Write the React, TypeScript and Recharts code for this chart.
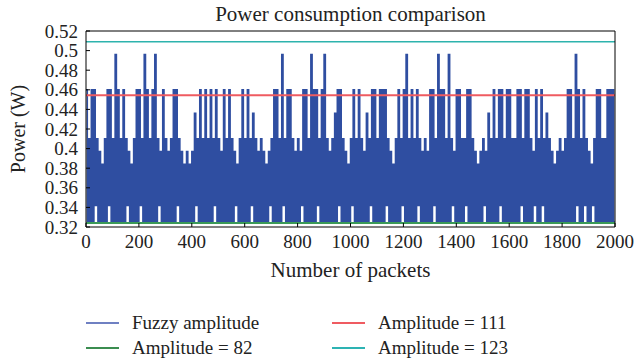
import { Legend, Line, LineChart, XAxis, YAxis } from 'recharts';

const FONT = '"Liberation Serif", "DejaVu Serif", serif';
const INK = '#222';

const CHART_W = 634;
const CHART_H = 364;
const MARGIN = { top: 31, right: 19, left: 0, bottom: 0 };
const Y_AXIS_W = 86;
const X_AXIS_H = 55;
const LEGEND_H = 82;
const TICK_GAP = 8;
const TICK_LEN = 4;

const packetTicks = [0, 200, 400, 600, 800, 1000, 1200, 1400, 1600, 1800, 2000];
const powerTicks = [0.32, 0.34, 0.36, 0.38, 0.4, 0.42, 0.44, 0.46, 0.48, 0.5, 0.52];

// Fuzzy amplitude: highest power reached in each 10-packet window (W)
const fuzzyPeaks = [
  0.46, 0.41, 0.46, 0.46, 0.41, 0.397, 0.384, 0.41, 0.46, 0.46,
  0.41, 0.496, 0.46, 0.41, 0.46, 0.41, 0.397, 0.384, 0.41, 0.46,
  0.46, 0.41, 0.496, 0.46, 0.41, 0.46, 0.496, 0.41, 0.397, 0.46,
  0.41, 0.397, 0.41, 0.46, 0.46, 0.41, 0.397, 0.384, 0.397, 0.384,
  0.397, 0.436, 0.41, 0.46, 0.41, 0.46, 0.41, 0.46, 0.41, 0.46,
  0.41, 0.397, 0.46, 0.41, 0.46, 0.41, 0.397, 0.384, 0.41, 0.46,
  0.41, 0.46, 0.41, 0.436, 0.41, 0.397, 0.41, 0.397, 0.384, 0.397,
  0.41, 0.46, 0.46, 0.41, 0.496, 0.41, 0.46, 0.46, 0.41, 0.397,
  0.41, 0.397, 0.46, 0.46, 0.41, 0.496, 0.46, 0.46, 0.41, 0.46,
  0.496, 0.41, 0.397, 0.41, 0.436, 0.46, 0.46, 0.41, 0.397, 0.384,
  0.41, 0.46, 0.41, 0.46, 0.41, 0.397, 0.436, 0.41, 0.46, 0.46,
  0.41, 0.46, 0.46, 0.46, 0.41, 0.397, 0.384, 0.41, 0.46, 0.41,
  0.46, 0.496, 0.41, 0.46, 0.41, 0.46, 0.41, 0.397, 0.41, 0.397,
  0.46, 0.46, 0.41, 0.496, 0.46, 0.46, 0.41, 0.496, 0.41, 0.397,
  0.46, 0.46, 0.41, 0.41, 0.46, 0.46, 0.41, 0.397, 0.384, 0.397,
  0.41, 0.397, 0.436, 0.41, 0.46, 0.41, 0.46, 0.46, 0.41, 0.46,
  0.46, 0.41, 0.41, 0.46, 0.46, 0.41, 0.46, 0.46, 0.41, 0.397,
  0.46, 0.41, 0.46, 0.41, 0.436, 0.41, 0.397, 0.384, 0.397, 0.41,
  0.397, 0.41, 0.46, 0.46, 0.41, 0.496, 0.46, 0.41, 0.46, 0.41,
  0.397, 0.384, 0.41, 0.46, 0.46, 0.41, 0.41, 0.46, 0.46, 0.46,
];

// Fuzzy amplitude: lowest power reached in each 10-packet window (W)
const fuzzyTroughs = [
  0.325, 0.325, 0.325, 0.342, 0.325, 0.325, 0.325, 0.325, 0.342, 0.325,
  0.325, 0.325, 0.325, 0.325, 0.325, 0.342, 0.325, 0.325, 0.325, 0.325,
  0.342, 0.325, 0.325, 0.325, 0.325, 0.325, 0.325, 0.342, 0.325, 0.325,
  0.325, 0.325, 0.325, 0.325, 0.342, 0.325, 0.325, 0.325, 0.325, 0.325,
  0.325, 0.342, 0.325, 0.325, 0.325, 0.325, 0.325, 0.325, 0.342, 0.325,
  0.325, 0.325, 0.325, 0.325, 0.325, 0.325, 0.342, 0.325, 0.325, 0.325,
  0.325, 0.325, 0.342, 0.325, 0.325, 0.325, 0.325, 0.325, 0.325, 0.342,
  0.325, 0.325, 0.325, 0.325, 0.342, 0.325, 0.325, 0.325, 0.325, 0.325,
  0.325, 0.342, 0.325, 0.325, 0.325, 0.325, 0.325, 0.342, 0.325, 0.325,
  0.325, 0.325, 0.325, 0.325, 0.325, 0.342, 0.325, 0.325, 0.325, 0.325,
  0.342, 0.325, 0.325, 0.325, 0.325, 0.325, 0.325, 0.342, 0.325, 0.325,
  0.325, 0.325, 0.325, 0.342, 0.325, 0.325, 0.325, 0.325, 0.325, 0.342,
  0.325, 0.325, 0.325, 0.325, 0.325, 0.342, 0.325, 0.325, 0.325, 0.325,
  0.325, 0.342, 0.325, 0.325, 0.325, 0.325, 0.325, 0.325, 0.342, 0.325,
  0.325, 0.325, 0.325, 0.342, 0.325, 0.325, 0.325, 0.325, 0.325, 0.325,
  0.342, 0.325, 0.325, 0.325, 0.325, 0.325, 0.342, 0.325, 0.325, 0.325,
  0.325, 0.325, 0.325, 0.325, 0.342, 0.325, 0.325, 0.325, 0.325, 0.342,
  0.325, 0.325, 0.342, 0.325, 0.325, 0.325, 0.325, 0.325, 0.325, 0.325,
  0.325, 0.325, 0.325, 0.325, 0.325, 0.342, 0.325, 0.325, 0.342, 0.325,
  0.325, 0.342, 0.325, 0.325, 0.325, 0.325, 0.325, 0.325, 0.325, 0.325,
];

// Fixed-amplitude runs draw a constant power (W)
const amp82 = 0.324;
const amp111 = 0.4545;
const amp123 = 0.509;

const WINDOW = 10;

const rows: Record<string, number>[] = [];
fuzzyPeaks.forEach((peak, i) => {
  rows.push({ packet: i * WINDOW, fuzzy: peak, amp82, amp111, amp123 });
  rows.push({ packet: i * WINDOW + WINDOW / 2, fuzzy: fuzzyTroughs[i], amp82, amp111, amp123 });
});
rows.push({ packet: 2000, fuzzy: fuzzyTroughs[fuzzyTroughs.length - 1], amp82, amp111, amp123 });

const series = [
  { key: 'fuzzy', name: 'Fuzzy amplitude', color: '#2f4ea1', width: 1.5, legend: '#6f80c2' },
  { key: 'amp82', name: 'Amplitude = 82', color: '#3b9a58', width: 2, legend: '#3b8d50' },
  { key: 'amp111', name: 'Amplitude = 111', color: '#ef5b61', width: 2, legend: '#ef5b61' },
  { key: 'amp123', name: 'Amplitude = 123', color: '#2db3ad', width: 1.5, legend: '#2db3b3' },
];

// legend is laid out in two columns, filled top to bottom
const legendCols = [{ line: 86, text: 132 }, { line: 332, text: 378 }];
const legendRows = [41, 66];

function PacketTick({ x, y, payload }: any) {
  return (
    <g>
      <line x1={x} x2={x} y1={y - TICK_GAP} y2={y - TICK_GAP - TICK_LEN} stroke="#000" />
      <text x={x} y={y} dy="0.71em" textAnchor="middle" fill={INK} fontSize={19} fontFamily={FONT}>
        {payload.value}
      </text>
    </g>
  );
}

function PowerTick({ x, y, payload }: any) {
  return (
    <g>
      <line x1={x + TICK_GAP} x2={x + TICK_GAP + TICK_LEN} y1={y} y2={y} stroke="#000" />
      <text x={x} y={y} dy="0.35em" textAnchor="end" fill={INK} fontSize={19} fontFamily={FONT}>
        {payload.value}
      </text>
    </g>
  );
}

function PowerLabel({ viewBox }: any) {
  const { x, y, height } = viewBox;
  return (
    <text
      transform={`translate(${x + 17.5}, ${y + height / 2}) rotate(-90)`}
      textAnchor="middle"
      dy="0.35em"
      fill={INK}
      fontSize={20}
      fontFamily={FONT}
    >
      Power (W)
    </text>
  );
}

function LegendBox() {
  return (
    <div style={{ position: 'relative', height: LEGEND_H, fontFamily: FONT, fontSize: 19, color: INK }}>
      {series.map((s, i) => {
        const col = legendCols[Math.floor(i / 2)];
        const rowY = legendRows[i % 2];
        return (
          <div key={s.key}>
            <div
              style={{
                position: 'absolute',
                left: col.line,
                top: rowY - 1,
                width: 33,
                height: 2,
                background: s.legend,
              }}
            />
            <div style={{ position: 'absolute', left: col.text, top: rowY - 12, lineHeight: '24px', whiteSpace: 'nowrap' }}>
              {s.name}
            </div>
          </div>
        );
      })}
    </div>
  );
}

export default function App() {
  const plotCenter = Y_AXIS_W + (CHART_W - Y_AXIS_W - MARGIN.right) / 2;
  return (
    <div style={{ position: 'absolute', left: 0, top: 0, background: '#fff' }}>
      <LineChart width={CHART_W} height={CHART_H} data={rows} margin={MARGIN} style={{ fontFamily: FONT }}>
        <text x={plotCenter} y={21} textAnchor="middle" fill={INK} fontSize={21} fontFamily={FONT}>
          Power consumption comparison
        </text>
        <XAxis
          dataKey="packet"
          type="number"
          domain={[0, 2000]}
          ticks={packetTicks}
          interval={0}
          height={X_AXIS_H}
          tickSize={0}
          tickMargin={TICK_GAP}
          tickLine={false}
          tick={<PacketTick />}
          stroke="#000"
          label={{ value: 'Number of packets', position: 'insideBottom', offset: 5, fill: INK, fontSize: 21, fontFamily: FONT }}
        />
        <XAxis
          xAxisId="top"
          orientation="top"
          mirror
          type="number"
          dataKey="packet"
          domain={[0, 2000]}
          ticks={packetTicks}
          interval={0}
          tick={false}
          tickSize={TICK_LEN}
          stroke="#000"
        />
        <YAxis
          type="number"
          domain={[0.32, 0.52]}
          ticks={powerTicks}
          interval={0}
          width={Y_AXIS_W}
          tickSize={0}
          tickMargin={TICK_GAP}
          tickLine={false}
          tick={<PowerTick />}
          stroke="#000"
          label={<PowerLabel />}
        />
        <YAxis
          yAxisId="right"
          orientation="right"
          mirror
          type="number"
          domain={[0.32, 0.52]}
          ticks={powerTicks}
          interval={0}
          tick={false}
          tickSize={TICK_LEN}
          stroke="#000"
        />
        <Legend verticalAlign="bottom" content={<LegendBox />} />
        {series.map((s) => (
          <Line
            key={s.key}
            dataKey={s.key}
            name={s.name}
            type={s.key === 'fuzzy' ? 'stepAfter' : 'linear'}
            stroke={s.color}
            strokeWidth={s.width}
            dot={false}
            activeDot={false}
            isAnimationActive={false}
          />
        ))}
      </LineChart>
    </div>
  );
}
